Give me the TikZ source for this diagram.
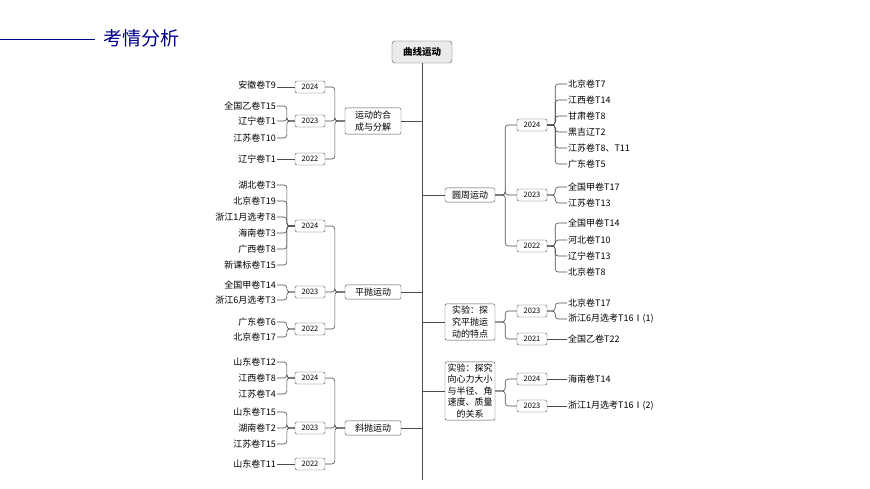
\documentclass[tikz,border=0pt]{standalone}
\usepackage{fontspec}
\setmainfont{Noto Sans CJK SC}
\begin{document}
\begin{tikzpicture}[x=1pt,y=-1pt,
  conn/.style={draw=black!70,line width=0.6pt,rounded corners=3pt},
  yr/.style={draw=black!70,rounded corners=2pt,font=\fontsize{7.5}{8}\selectfont,inner sep=1.2pt,minimum width=30pt,minimum height=12pt},
  it/.style={font=\fontsize{9}{10}\selectfont,inner sep=1pt},
  topic/.style={draw=black!70,rounded corners=2pt,font=\fontsize{9}{12}\selectfont,align=center,inner sep=3pt,minimum width=56pt}]
\useasboundingbox (0,0) rectangle (870,489);
\draw[blue!55!black,line width=1pt] (0,40) -- (95,40);
\node[anchor=west,text=blue!55!black,font=\fontsize{19}{20}\selectfont,inner sep=0] (hd) at (103,38) {考情分析};
\node[draw=black!70,fill=black!8,rounded corners=3pt,font=\bfseries\fontsize{9.5}{10}\selectfont,minimum width=60pt,minimum height=22pt] (root) at (422,52) {曲线运动};
\coordinate (tb) at (422,480);
\draw[conn] (root.south) -- (tb);
% left group 1
\node[topic] (g1) at (373,121) {运动的合\\成与分解};
\draw[conn] (g1.east) -- (g1.east -| root);
\node[yr] (a24) at (310,87) {2024};
\node[yr] (a23) at (310,121) {2023};
\node[yr] (a22) at (310,159) {2022};
\foreach \y in {a24,a23,a22} \draw[conn] (g1.west) -- ++(-10,0) |- (\y.east);
\node[it,anchor=east] (a1) at (277,85) {安徽卷T9};
\node[it,anchor=east] (a2) at (277,106) {全国乙卷T15};
\node[it,anchor=east] (a3) at (277,121) {辽宁卷T1};
\node[it,anchor=east] (a4) at (277,138) {江苏卷T10};
\node[it,anchor=east] (a5) at (277,159) {辽宁卷T1};
\draw[conn] (a24.west) -- (a1.east |- a24.west);
\foreach \i in {a2,a3,a4} \draw[conn] (a23.west) -- ++(-8,0) |- (\i.east);
\draw[conn] (a22.west) -- (a5.east);
% left group 2
\node[topic] (g2) at (373,292) {平抛运动};
\draw[conn] (g2.east) -- (g2.east -| root);
\node[yr] (b24) at (310,226) {2024};
\node[yr] (b23) at (310,292) {2023};
\node[yr] (b22) at (310,329) {2022};
\foreach \y in {b24,b23,b22} \draw[conn] (g2.west) -- ++(-10,0) |- (\y.east);
\node[it,anchor=east] (b1) at (277,185) {湖北卷T3};
\node[it,anchor=east] (b2) at (277,201) {北京卷T19};
\node[it,anchor=east] (b3) at (277,217) {浙江1月选考T8};
\node[it,anchor=east] (b4) at (277,233) {海南卷T3};
\node[it,anchor=east] (b5) at (277,249) {广西卷T8};
\node[it,anchor=east] (b6) at (277,265) {新课标卷T15};
\node[it,anchor=east] (b7) at (277,285) {全国甲卷T14};
\node[it,anchor=east] (b8) at (277,300) {浙江6月选考T3};
\node[it,anchor=east] (b9) at (277,322) {广东卷T6};
\node[it,anchor=east] (b10) at (277,337) {北京卷T17};
\foreach \i in {b1,b2,b3,b4,b5,b6} \draw[conn] (b24.west) -- ++(-8,0) |- (\i.east);
\foreach \i in {b7,b8} \draw[conn] (b23.west) -- ++(-8,0) |- (\i.east);
\foreach \i in {b9,b10} \draw[conn] (b22.west) -- ++(-8,0) |- (\i.east);
% left group 3
\node[topic] (g3) at (373,428) {斜抛运动};
\draw[conn] (g3.east) -- (g3.east -| root);
\node[yr] (c24) at (310,378) {2024};
\node[yr] (c23) at (310,428) {2023};
\node[yr] (c22) at (310,464) {2022};
\foreach \y in {c24,c23,c22} \draw[conn] (g3.west) -- ++(-10,0) |- (\y.east);
\node[it,anchor=east] (c1) at (277,362) {山东卷T12};
\node[it,anchor=east] (c2) at (277,378) {江西卷T8};
\node[it,anchor=east] (c3) at (277,394) {江苏卷T4};
\node[it,anchor=east] (c4) at (277,412) {山东卷T15};
\node[it,anchor=east] (c5) at (277,428) {湖南卷T2};
\node[it,anchor=east] (c6) at (277,444) {江苏卷T15};
\node[it,anchor=east] (c7) at (277,464) {山东卷T11};
\foreach \i in {c1,c2,c3} \draw[conn] (c24.west) -- ++(-8,0) |- (\i.east);
\foreach \i in {c4,c5,c6} \draw[conn] (c23.west) -- ++(-8,0) |- (\i.east);
\draw[conn] (c22.west) -- (c7.east);
% right group 1
\node[topic,minimum width=50pt] (r1) at (470,195) {圆周运动};
\draw[conn] (r1.west -| root) -- (r1.west);
\node[yr] (y24) at (532,125) {2024};
\node[yr] (y23) at (532,195) {2023};
\node[yr] (y22) at (532,246) {2022};
\foreach \y in {y24,y23,y22} \draw[conn] (r1.east) -- ++(10,0) |- (\y.west);
\foreach \t/\y [count=\n] in {北京卷T7/84,江西卷T14/100,甘肃卷T8/116,黑吉辽T2/132,江苏卷T8、T11/148,广东卷T5/164}
  {\node[it,anchor=west] (pa\n) at (567,\y) {\t}; \draw[conn] (y24.east) -- ++(8,0) |- (pa\n.west);}
\foreach \t/\y [count=\n] in {全国甲卷T17/187,江苏卷T13/203}
  {\node[it,anchor=west] (pb\n) at (567,\y) {\t}; \draw[conn] (y23.east) -- ++(8,0) |- (pb\n.west);}
\foreach \t/\y [count=\n] in {全国甲卷T14/223,河北卷T10/240,辽宁卷T13/256,北京卷T8/272}
  {\node[it,anchor=west] (pc\n) at (567,\y) {\t}; \draw[conn] (y22.east) -- ++(8,0) |- (pc\n.west);}
% right group 2
\node[topic,minimum width=50pt,inner sep=2pt] (r2) at (470,322) {实验：探\\究平抛运\\动的特点};
\draw[conn] (r2.west -| root) -- (r2.west);
\node[yr] (e23) at (532,311) {2023};
\node[yr] (e21) at (532,339) {2021};
\foreach \y in {e23,e21} \draw[conn] (r2.east) -- ++(10,0) |- (\y.west);
\node[it,anchor=west] (e1) at (567,303) {北京卷T17};
\node[it,anchor=west] (e2) at (567,319) {浙江6月选考T16Ⅰ(1)};
\node[it,anchor=west] (e3) at (567,339) {全国乙卷T22};
\foreach \i in {e1,e2} \draw[conn] (e23.east) -- ++(8,0) |- (\i.west);
\draw[conn] (e21.east) -- (e3.west);
% right group 3
\node[topic,minimum width=50pt,inner sep=2pt,font=\fontsize{9}{11.5}\selectfont] (r3) at (470,391) {实验：探究\\向心力大小\\与半径、角\\速度、质量\\的关系};
\draw[conn] (r3.west -| root) -- (r3.west);
\node[yr] (f24) at (532,379) {2024};
\node[yr] (f23) at (532,406) {2023};
\foreach \y in {f24,f23} \draw[conn] (r3.east) -- ++(10,0) |- (\y.west);
\node[it,anchor=west] (f1) at (567,379) {海南卷T14};
\node[it,anchor=west] (f2) at (567,406) {浙江1月选考T16Ⅰ(2)};
\draw[conn] (f24.east) -- (f1.west);
\draw[conn] (f23.east) -- (f2.west);
\end{tikzpicture}
\end{document}
